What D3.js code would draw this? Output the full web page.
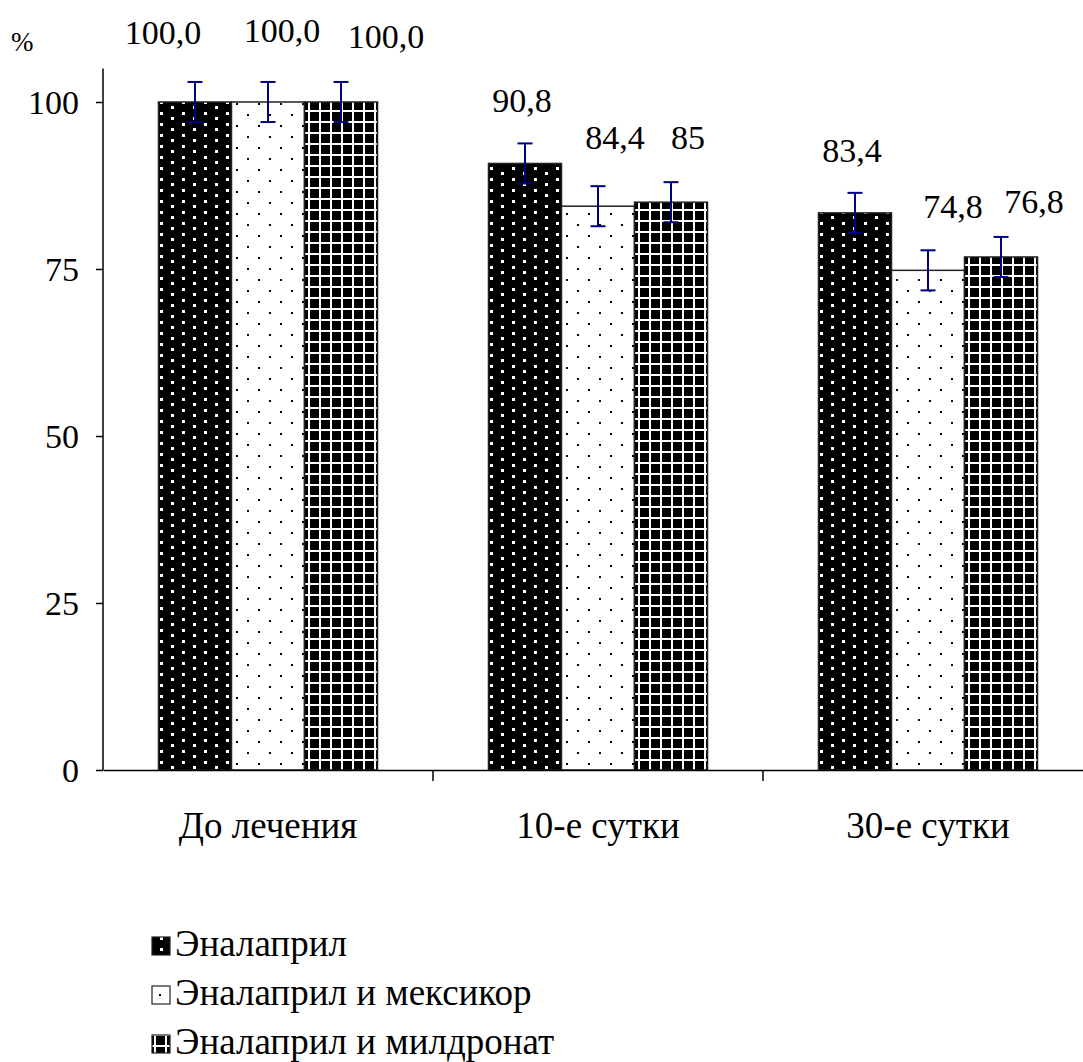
<!DOCTYPE html>
<html><head><meta charset="utf-8">
<script src="https://cdn.jsdelivr.net/npm/d3@7"></script>
<style>body{margin:0;background:#fff}svg{display:block}</style>
</head><body>
<script>
const categories = ["До лечения", "10-е сутки", "30-е сутки"];
const seriesNames = ["Эналаприл", "Эналаприл и мексикор", "Эналаприл и милдронат"];
const enalapril = [100.0, 90.8, 83.4];
const mexicor = [100.0, 84.4, 74.8];
const mildronate = [100.0, 85.0, 76.8];
const errEnalapril = [3, 3, 3];
const errMexicor = [3, 3, 3];
const errMildronate = [3, 3, 3];
const valueLabels = [["100,0", "90,8", "83,4"], ["100,0", "84,4", "74,8"], ["100,0", "85", "76,8"]];
const yTicks = [0, 25, 50, 75, 100];

const seriesValues = [enalapril, mexicor, mildronate];
const seriesErr = [errEnalapril, errMexicor, errMildronate];
const patterns = ["pDark", "pLight", "pGrid"];
const FONT = "Liberation Serif";

const W = 1083, H = 1062;
const svg = d3.select("body").append("svg").attr("width", W).attr("height", H);
const defs = svg.append("defs");

const p1 = defs.append("pattern").attr("id", "pDark").attr("patternUnits", "userSpaceOnUse")
  .attr("width", 22).attr("height", 11).attr("x", 2).attr("y", 0);
p1.append("rect").attr("width", 22).attr("height", 11).attr("fill", "#000");
p1.append("rect").attr("x", 4).attr("y", 2).attr("width", 3).attr("height", 3).attr("fill", "#fff");
p1.append("rect").attr("x", 15).attr("y", 7).attr("width", 3).attr("height", 3).attr("fill", "#fff");
const p2 = defs.append("pattern").attr("id", "pLight").attr("patternUnits", "userSpaceOnUse")
  .attr("width", 22).attr("height", 22);
p2.append("rect").attr("width", 22).attr("height", 22).attr("fill", "#fff");
p2.append("rect").attr("x", 5).attr("y", 4).attr("width", 2).attr("height", 2).attr("fill", "#000");
p2.append("rect").attr("x", 16).attr("y", 15).attr("width", 2).attr("height", 2).attr("fill", "#000");
const p3 = defs.append("pattern").attr("id", "pGrid").attr("patternUnits", "userSpaceOnUse")
  .attr("width", 11).attr("height", 11);
p3.append("rect").attr("width", 11).attr("height", 11).attr("fill", "#000");
p3.append("rect").attr("x", 0).attr("y", 0).attr("width", 2).attr("height", 11).attr("fill", "#fff");
p3.append("rect").attr("x", 0).attr("y", 0).attr("width", 11).attr("height", 2).attr("fill", "#fff");

const x0 = d3.scaleBand().domain(categories).range([103, 1093]).paddingInner(0).paddingOuter(0);
const x1 = d3.scaleBand().domain(d3.range(3)).range([0, x0.bandwidth()]).paddingInner(0).paddingOuter(0.76);
const y = d3.scaleLinear().domain([0, 105]).range([770, 68.6]);

categories.forEach((c, ci) => {
  seriesValues.forEach((vals, si) => {
    svg.append("rect")
      .attr("x", x0(c) + x1(si)).attr("y", y(vals[ci]))
      .attr("width", x1.bandwidth()).attr("height", y(0) - y(vals[ci]))
      .attr("fill", `url(#${patterns[si]})`).attr("stroke", "#222").attr("stroke-width", 1.5);
  });
});

categories.forEach((c, ci) => {
  seriesValues.forEach((vals, si) => {
    const cx = x0(c) + x1(si) + x1.bandwidth() / 2;
    const e = seriesErr[si][ci];
    const g = svg.append("g").attr("stroke", "#000080").attr("stroke-width", 2);
    g.append("line").attr("x1", cx).attr("x2", cx).attr("y1", y(vals[ci] + e)).attr("y2", y(vals[ci] - e));
    g.append("line").attr("x1", cx - 7.5).attr("x2", cx + 7.5).attr("y1", y(vals[ci] + e)).attr("y2", y(vals[ci] + e));
    g.append("line").attr("x1", cx - 7.5).attr("x2", cx + 7.5).attr("y1", y(vals[ci] - e)).attr("y2", y(vals[ci] - e));
  });
});

// label layout nudges (mimic original placement)
const nudgeX = [[-32, -3, -3], [14, 17, 25], [45, 17, 33]];
const nudgeY = [[-58, -51, -51], [-60, -57, -52], [-54, -53, -44]];
categories.forEach((c, ci) => {
  seriesValues.forEach((vals, si) => {
    const cx = x0(c) + x1(si) + x1.bandwidth() / 2;
    svg.append("text").attr("x", cx + nudgeX[si][ci]).attr("y", y(vals[ci]) + nudgeY[si][ci])
      .attr("text-anchor", "middle").attr("font-size", 34).attr("font-family", FONT).text(valueLabels[si][ci]);
  });
});

const yAxis = svg.append("g").attr("transform", "translate(103,0)")
  .call(d3.axisLeft(y).tickValues(yTicks).tickSize(7).tickPadding(17).tickFormat(d3.format("d")));
yAxis.select(".domain").attr("d", `M0,${y(105)}V${y(0)}`).attr("stroke", "#000").attr("stroke-width", 1.5);
yAxis.selectAll(".tick line").attr("stroke", "#000").attr("stroke-width", 1.5);
yAxis.selectAll(".tick text").attr("font-size", 34).attr("font-family", FONT).attr("fill", "#000").attr("dy", "0.33em");

const xAxis = svg.append("g").attr("transform", `translate(0,${y(0)})`)
  .call(d3.axisBottom(x0).tickSize(0).tickPadding(42));
xAxis.select(".domain").attr("stroke", "#000").attr("stroke-width", 1.5);
xAxis.selectAll(".tick text").attr("font-size", 37).attr("font-family", FONT).attr("fill", "#000");
const bounds = categories.slice(1).map(c => x0(c)).concat([x0(categories[2]) + x0.bandwidth()]);
xAxis.selectAll(".bt").data(bounds).enter().append("line")
  .attr("x1", d => d).attr("x2", d => d).attr("y1", 0).attr("y2", 11)
  .attr("stroke", "#000").attr("stroke-width", 1.5);

svg.append("text").attr("x", 11).attr("y", 51).attr("font-size", 27).attr("font-family", FONT).text("%");

const leg = svg.append("g");
seriesNames.forEach((n, i) => {
  const yy = 956 + i * 49;
  leg.append("rect").attr("x", 152).attr("y", yy - 19).attr("width", 18).attr("height", 18)
    .attr("fill", `url(#${patterns[i]})`).attr("stroke", "#222").attr("stroke-width", 1.2);
  leg.append("text").attr("x", 175).attr("y", yy).attr("font-size", 37).attr("font-family", FONT).text(n);
});
</script>
</body></html>
